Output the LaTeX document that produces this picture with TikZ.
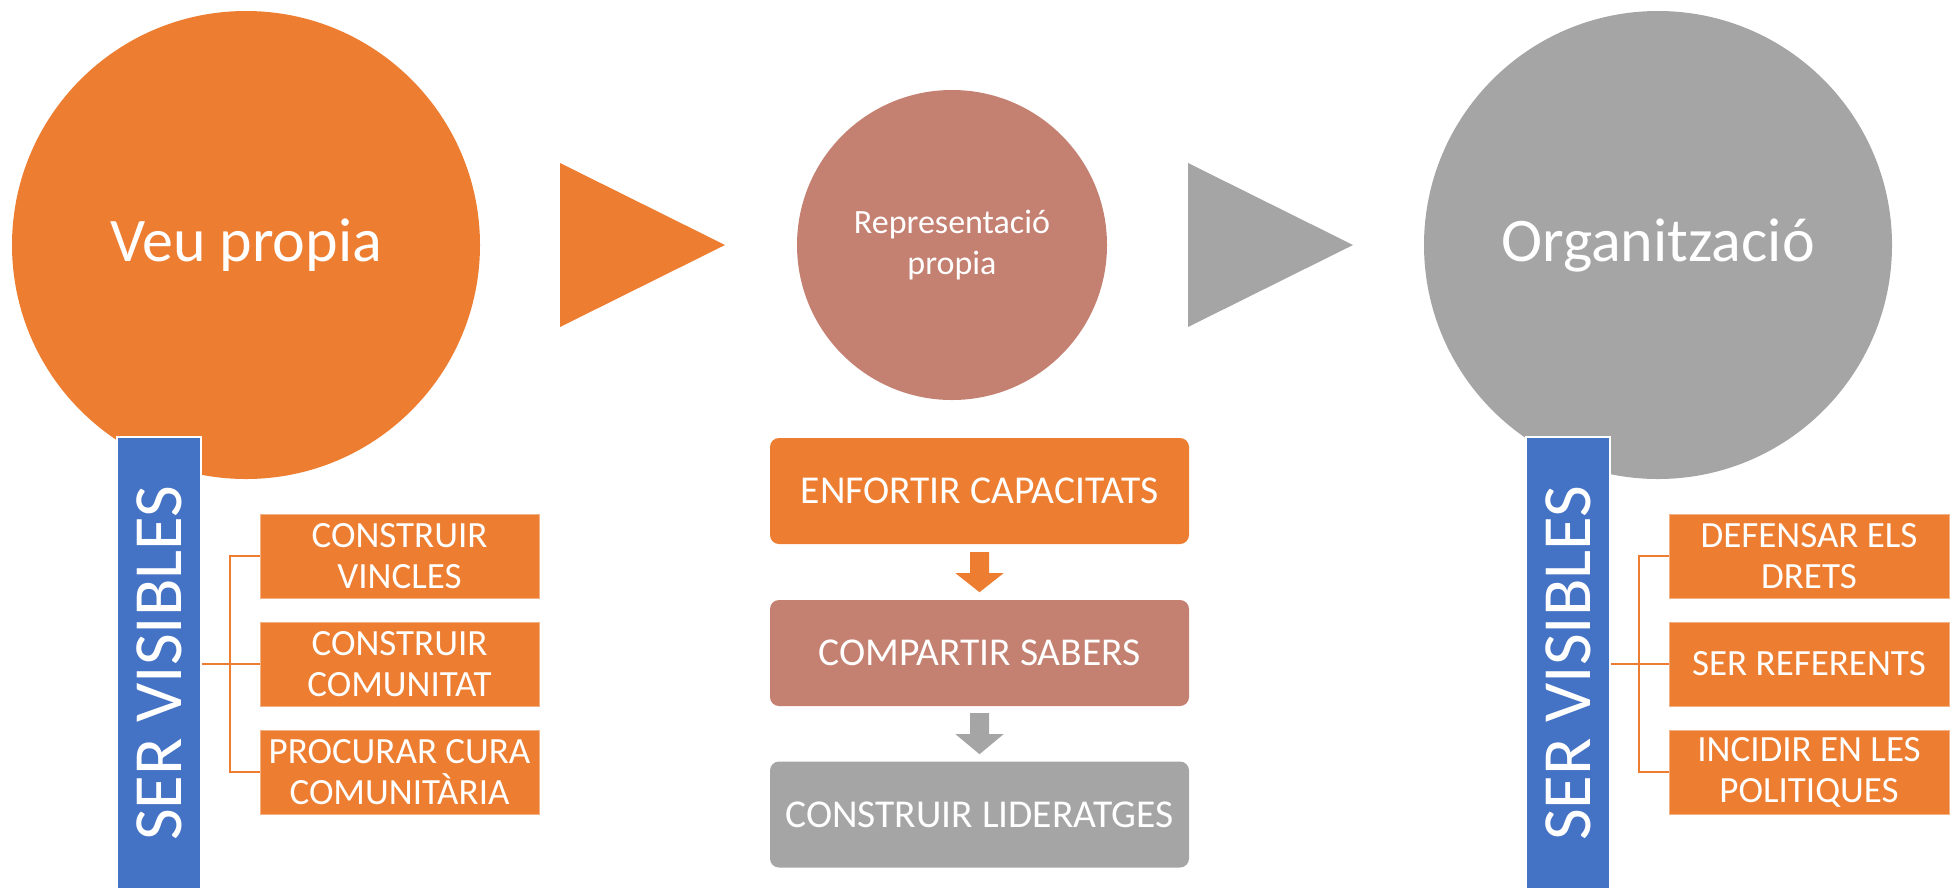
\documentclass[tikz,border=0pt]{standalone}
\usepackage{fontspec}
\setmainfont{Carlito}
\usetikzlibrary{calc}
\definecolor{corange}{HTML}{ED7D31}
\definecolor{csalmon}{HTML}{C48070}
\definecolor{cgray}{HTML}{A5A5A5}
\definecolor{cblue}{HTML}{4472C4}
\definecolor{cedge}{HTML}{F4B183}
\begin{document}
\begin{tikzpicture}[x=1pt,y=-1pt,
  bigcirc/.style={circle,inner sep=0pt,text=white,align=center},
  bar/.style={fill=cblue,draw=white,line width=1.5pt,minimum width=84pt,minimum height=452pt,inner sep=0pt},
  bartext/.style={rotate=90,text=white,font=\fontsize{69}{80}\selectfont},
  sidebox/.style={fill=corange,draw=cedge,line width=1pt,minimum height=84pt,inner sep=0pt,text=white,align=center,font=\fontsize{37}{41}\selectfont},
  flowbox/.style={rounded corners=9pt,minimum width=419pt,minimum height=106pt,inner sep=0pt,text=white,font=\fontsize{39.5}{44}\selectfont},
  brk/.style={draw=corange,line width=1.8pt}]
\useasboundingbox (0,0) rectangle (1950,887);
% circles
\node[bigcirc,fill=corange,minimum size=468pt,font=\fontsize{62}{74}\selectfont] (c1) at (246,245) {Veu propia};
\node[bigcirc,fill=csalmon,minimum size=310pt,font=\fontsize{34}{41}\selectfont] (c2) at (952,245) {Representació\\propia};
\node[bigcirc,fill=cgray,minimum size=468pt,font=\fontsize{62}{74}\selectfont] (c3) at (1658,245) {Organització};
% chevrons
\fill[corange] (560,163) -- (725,245) -- (560,327) -- cycle;
\fill[cgray] (1188,163) -- (1353,245) -- (1188,327) -- cycle;
% left group
\node[bar] (barL) at (159,663) {};
\node[bartext] (tL) at (barL.center) {SER VISIBLES};
\node[sidebox,minimum width=279pt] (l1) at (399.5,556) {CONSTRUIR\\VINCLES};
\node[sidebox,minimum width=279pt] (l2) at (399.5,664) {CONSTRUIR\\COMUNITAT};
\node[sidebox,minimum width=279pt] (l3) at (399.5,772) {PROCURAR CURA\\COMUNITÀRIA};
\coordinate (jL) at (230,664);
\draw[brk] (barL.east |- jL) -- (l2.west);
\draw[brk] (l1.west) -- (l1.west -| jL) -- (l3.west -| jL) -- (l3.west);
% right group
\node[bar] (barR) at (1568,663) {};
\node[bartext] (tR) at (barR.center) {SER VISIBLES};
\node[sidebox,minimum width=280pt] (r1) at (1809,556) {DEFENSAR ELS\\DRETS};
\node[sidebox,minimum width=280pt] (r2) at (1809,664) {SER REFERENTS};
\node[sidebox,minimum width=280pt] (r3) at (1809,772) {INCIDIR EN LES\\POLITIQUES};
\coordinate (jR) at (1639,664);
\draw[brk] (barR.east |- jR) -- (r2.west);
\draw[brk] (r1.west) -- (r1.west -| jR) -- (r3.west -| jR) -- (r3.west);
% middle flow
\node[flowbox,fill=corange] (m1) at (979.5,491) {ENFORTIR CAPACITATS};
\node[flowbox,fill=csalmon] (m2) at (979.5,653) {COMPARTIR SABERS};
\node[flowbox,fill=cgray] (m3) at (979.5,814.5) {CONSTRUIR LIDERATGES};
\begin{scope}[shift={(m1.south)}]
\fill[corange] (-9.5,8) -- (9.5,8) -- (9.5,29) -- (24,29) -- (0,48) -- (-24,29) -- (-9.5,29) -- cycle;
\end{scope}
\begin{scope}[shift={(m2.south)}]
\fill[cgray] (-9.5,7) -- (9.5,7) -- (9.5,28) -- (24,28) -- (0,48) -- (-24,28) -- (-9.5,28) -- cycle;
\end{scope}
\end{tikzpicture}
\end{document}
